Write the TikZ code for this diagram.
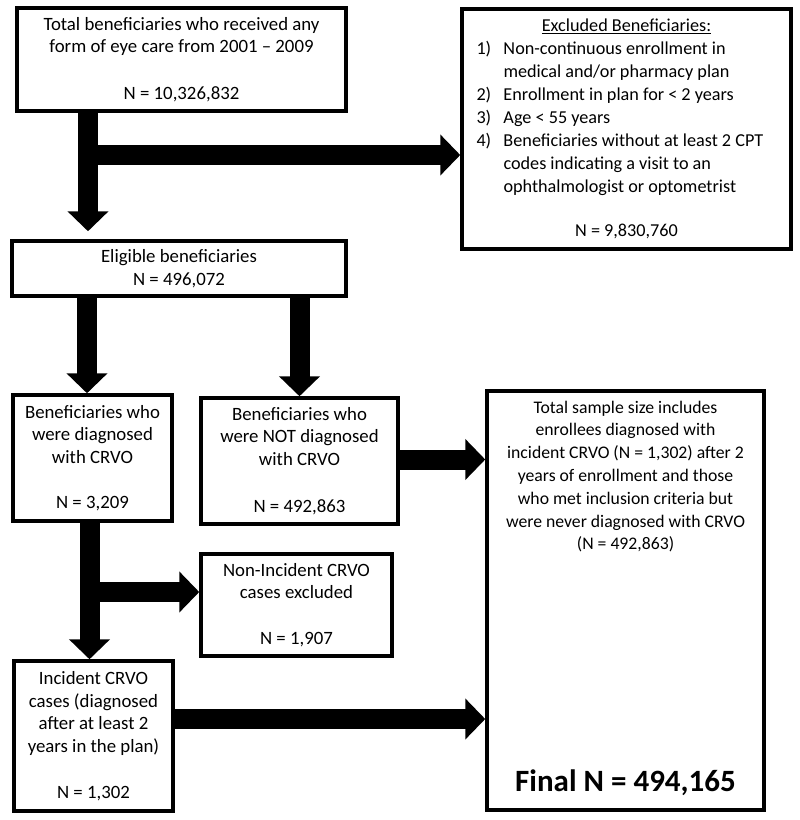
\documentclass[tikz,border=0pt]{standalone}
\usepackage{fontspec}
\setmainfont{Carlito}
\usetikzlibrary{arrows.meta}
\newcommand\exitem[2]{\makebox[27pt][l]{#1}#2}
\newcommand\excont[1]{\hspace*{27pt}#1}
\begin{document}
\begin{tikzpicture}[x=1pt,y=-1pt,
  box/.style={draw, line width=3.5pt, rectangle, align=center, inner sep=0pt,
    font=\fontsize{18.8}{22.8}\selectfont},
  txt/.style={align=center, inner sep=0pt, font=\fontsize{17.7}{22.8}\selectfont},
  fat/.style={line width=20pt, -{Triangle[width=40pt,length=20pt]}},
]
\useasboundingbox (0,0) rectangle (800,820);
\fill[white] (0,0) rectangle (800,820);

% boxes
\node[box, minimum width=329pt, minimum height=103pt] (tot) at (181.5,59.5)
  {Total beneficiaries who received any\\form of eye care from 2001 – 2009\\[24pt]N = 10,326,832};
\node[box, minimum width=334pt, minimum height=55pt] (elig) at (179,268.5)
  {Eligible beneficiaries\\N = 496,072};
\node[box, minimum width=329pt, minimum height=240pt, align=left,
      font=\fontsize{18.2}{23}\selectfont] (excl) at (626.5,129)
  {\makebox[300pt]{\underline{Excluded Beneficiaries:}}\\
   \exitem{1)}{Non-continuous enrollment in}\\
   \excont{medical and/or pharmacy plan}\\
   \exitem{2)}{Enrollment in plan for < 2 years}\\
   \exitem{3)}{Age < 55 years}\\
   \exitem{4)}{Beneficiaries without at least 2 CPT}\\
   \excont{codes indicating a visit to an}\\
   \excont{ophthalmologist or optometrist}\\[21pt]
   \makebox[300pt]{N = 9,830,760}};
\node[box, minimum width=159pt, minimum height=126pt] (crvo) at (92.5,458)
  {Beneficiaries who\\were diagnosed\\with CRVO\\[22pt]N = 3,209};
\node[box, minimum width=197pt, minimum height=126pt] (nott) at (299.5,461)
  {Beneficiaries who\\were NOT diagnosed\\with CRVO\\[24pt]N = 492,863};
\node[box, minimum width=191pt, minimum height=102pt] (noninc) at (296.5,605)
  {Non-Incident CRVO\\cases excluded\\[23pt]N = 1,907};
\node[box, minimum width=159pt, minimum height=150pt] (inc) at (93.5,736)
  {Incident CRVO\\cases (diagnosed\\after at least 2\\years in the plan)\\[23pt]N = 1,302};
\node[box, minimum width=277pt, minimum height=419pt] (total) at (625.5,600.5) {};
\node[txt] (totaltxt) at (625.5,476.5)
  {Total sample size includes\\enrollees diagnosed with\\incident CRVO (N = 1,302) after 2\\years of enrollment and those\\who met inclusion criteria but\\were never diagnosed with CRVO\\(N = 492,863)};
\node[inner sep=0pt, font=\bfseries\fontsize{31}{34}\selectfont] (final) at (625.5,783) {Final N = 494,165};

% helper coordinates
\coordinate (j1) at (88,155);
\coordinate (x87) at (87,0);
\coordinate (x89) at (89.5,0);
\coordinate (j2) at (89.5,592);
\coordinate (y460) at (0,459.5);
\coordinate (y719) at (0,719);

% connectors
\draw[fat, shorten >=8pt] (tot.south -| j1) -- (elig.north -| j1);
\draw[fat] (j1) -- (excl.west |- j1);
\draw[fat] (elig.south -| x87) -- (crvo.north -| x87);
\draw[fat] (elig.south -| nott.north) -- (nott.north);
\draw[fat] (nott.east |- y460) -- (total.west |- y460);
\draw[fat] (crvo.south -| x89) -- (inc.north -| x89);
\draw[fat] (j2) -- (noninc.west |- j2);
\draw[fat] (inc.east |- y719) -- (total.west |- y719);
\end{tikzpicture}
\end{document}
